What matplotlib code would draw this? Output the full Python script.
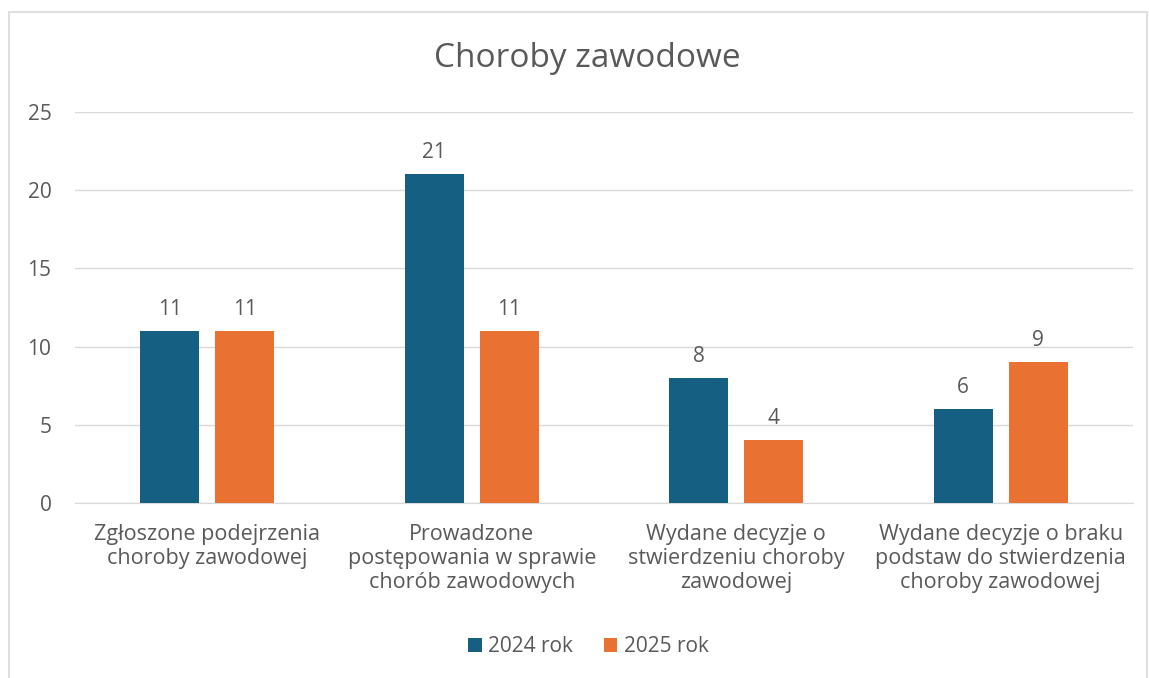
import numpy as np
import matplotlib.pyplot as plt
from matplotlib.patches import Rectangle

plt.rcParams['font.family'] = ['Open Sans', 'DejaVu Sans']

categories = [
    'Zgłoszone podejrzenia\nchoroby zawodowej',
    'Prowadzone\npostępowania w sprawie\nchorób zawodowych',
    'Wydane decyzje o\nstwierdzeniu choroby\nzawodowej',
    'Wydane decyzje o braku\npodstaw do stwierdzenia\nchoroby zawodowej',
]
series_names = ['2024 rok', '2025 rok']
values_2024 = [11, 21, 8, 6]
values_2025 = [11, 11, 4, 9]

COLOR_2024 = '#156082'
COLOR_2025 = '#E97132'
TEXT_COLOR = '#595959'

fig = plt.figure(figsize=(11.49, 6.78), dpi=100)
ax = fig.add_axes([0.0653, 0.258, 0.9207, 0.577])

x = np.arange(len(categories))
w = 0.223
off = 0.142
b1 = ax.bar(x - off, values_2024, w, color=COLOR_2024, label=series_names[0], zorder=3)
b2 = ax.bar(x + off, values_2025, w, color=COLOR_2025, label=series_names[1], zorder=3)

# value labels above bars
for bars in (b1, b2):
    for bar in bars:
        h = bar.get_height()
        ax.annotate(f'{int(h)}', (bar.get_x() + bar.get_width() / 2, h),
                    xytext=(0, 8), textcoords='offset points',
                    ha='center', va='bottom', fontsize=15, color=TEXT_COLOR)

ax.set_xlim(-0.5, len(categories) - 0.5)
ax.set_ylim(0, 25)
ax.set_yticks(range(0, 26, 5))
ax.yaxis.grid(True, color='#d9d9d9', linewidth=1, zorder=0)
ax.set_xticks(x)
ax.set_xticklabels(categories, fontsize=15.5, color=TEXT_COLOR, linespacing=1.2)
ax.tick_params(axis='y', length=0, labelsize=15, labelcolor=TEXT_COLOR, pad=17)
ax.tick_params(axis='x', length=0, pad=15)
for s in ['top', 'right', 'left']:
    ax.spines[s].set_visible(False)
ax.spines['bottom'].set_color('#d9d9d9')

fig.text(0.511, 0.914, 'Choroby zawodowe', ha='center', va='center',
         fontsize=24, color=TEXT_COLOR)

fig.legend(loc='center', bbox_to_anchor=(0.512, 0.046), ncol=2, frameon=False,
           fontsize=15, labelcolor=TEXT_COLOR, handlelength=0.65, handleheight=0.65,
           handletextpad=0.3, columnspacing=1.5)

# outer chart border
fig.patches.append(Rectangle((9 / 1149, -0.01), 1138 / 1149, 1 - 12 / 678 + 0.01,
                             transform=fig.transFigure, fill=False,
                             edgecolor='#d9d9d9', linewidth=1.2))

fig.savefig('out.png', dpi=100, facecolor='white')
